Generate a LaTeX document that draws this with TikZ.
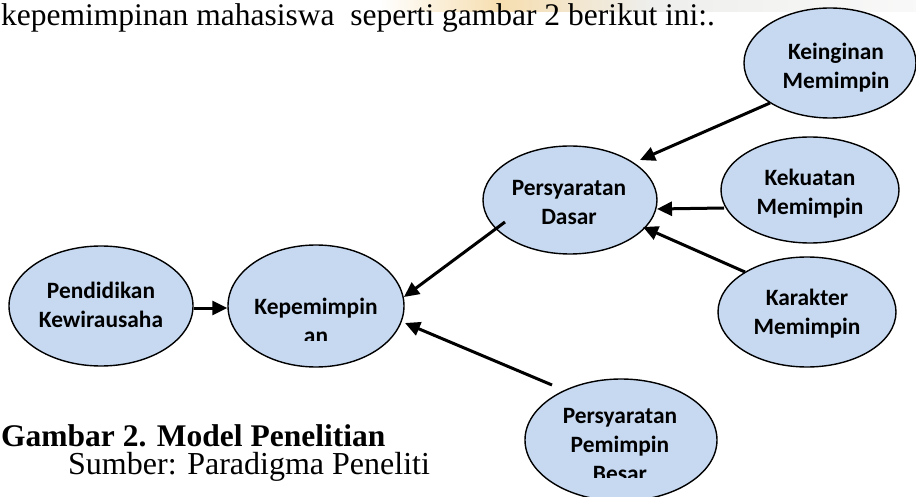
\documentclass[tikz,border=0pt]{standalone}
\usepackage{fontspec}
\setmainfont{Liberation Serif}
\newfontfamily\calb{Carlito}[BoldFont=* Bold]
\usetikzlibrary{shapes.geometric,arrows.meta,calc}
\definecolor{ellfill}{RGB}{198,217,241}
\definecolor{wmorange}{RGB}{246,222,176}
\definecolor{wmgray}{RGB}{238,238,236}
\tikzset{
  ell/.style={ellipse,draw=black,line width=1.4pt,fill=ellfill,inner sep=0pt},
  etext/.style={align=center,inner sep=0pt,font=\calb\bfseries\fontsize{23.4}{29}\selectfont},
  conn/.style={line width=3pt,-{Triangle[length=15pt,width=14pt]}},
  body/.style={anchor=base west,inner sep=0pt,font=\fontsize{31.5}{36}\selectfont}
}
\begin{document}
\begin{tikzpicture}[x=1pt,y=-1pt]
\useasboundingbox (0,0) rectangle (916,497);
% faint watermark band
\fill[left color=white,right color=wmorange] (380,0) rectangle (500,12);
\fill[left color=wmorange,right color=wmgray] (500,0) rectangle (650,12);
\fill[left color=wmgray,right color=white!95!gray] (650,0) rectangle (916,12);
% body text
\node[body] (intro) at (1,26) {kepemimpinan mahasiswa\ \ seperti gambar 2 berikut ini:.};
\node[body,text depth=0pt,font=\bfseries\fontsize{31.5}{36}\selectfont] (cap) at (1,446) {Gambar 2. Model Penelitian};
\node[body,font=\fontsize{32}{36}\selectfont] (src) at (68,474) {Sumber: Paradigma Peneliti};
% ellipses
\node[ell,minimum width=184pt,minimum height=120pt] (pend) at (101,306) {};
\node[ell,minimum width=176pt,minimum height=122pt] (kep) at (316,306) {};
\node[ell,minimum width=174pt,minimum height=108pt] (dasar) at (570,200) {};
\node[ell,minimum width=172pt,minimum height=110pt] (kein) at (830,63) {};
\node[ell,minimum width=178pt,minimum height=106pt] (kek) at (810,190) {};
\node[ell,minimum width=178pt,minimum height=110pt] (kar) at (807,312) {};
\node[ell,minimum width=192pt,minimum height=122pt] (besar) at (621,440) {};
% ellipse texts
\node[etext] (pendt) at (101,305) {Pendidikan\\Kewirausaha};
\begin{scope}
\clip (200,250) rectangle (430,340);
\node[etext] (kept) at (316,321) {Kepemimpin\\an};
\end{scope}
\node[etext] (dasart) at (569,202) {Persyaratan\\Dasar};
\node[etext] (keint) at (836,68) {Keinginan\\Memimpin};
\node[etext] (kekt) at (810,194) {Kekuatan\\Memimpin};
\node[etext] (kart) at (807,314) {Karakter\\Memimpin};
\begin{scope}
\clip (520,390) rectangle (720,477);
\node[etext] (besart) at (620,445) {Persyaratan\\Pemimpin\\Besar};
\end{scope}
% connectors
\draw[conn] ([yshift=-2pt]pend.east) -- ([yshift=-2pt]kep.west);
\draw[conn] ($(dasar)+(-65,22)$) -- ($(kep)+(88,-9)$);
\draw[conn] ($(besar)+(-69,-55)$) -- ($(kep)+(89,17)$);
\draw[conn] ($(kein)+(-60,40)$) -- ($(dasar)+(70,-40)$);
\draw[conn] ($(kek)+(-86,18)$) -- ($(dasar)+(87,9)$);
\draw[conn] ($(kar)+(-62,-40)$) -- ($(dasar)+(73,27)$);
\end{tikzpicture}
\end{document}
